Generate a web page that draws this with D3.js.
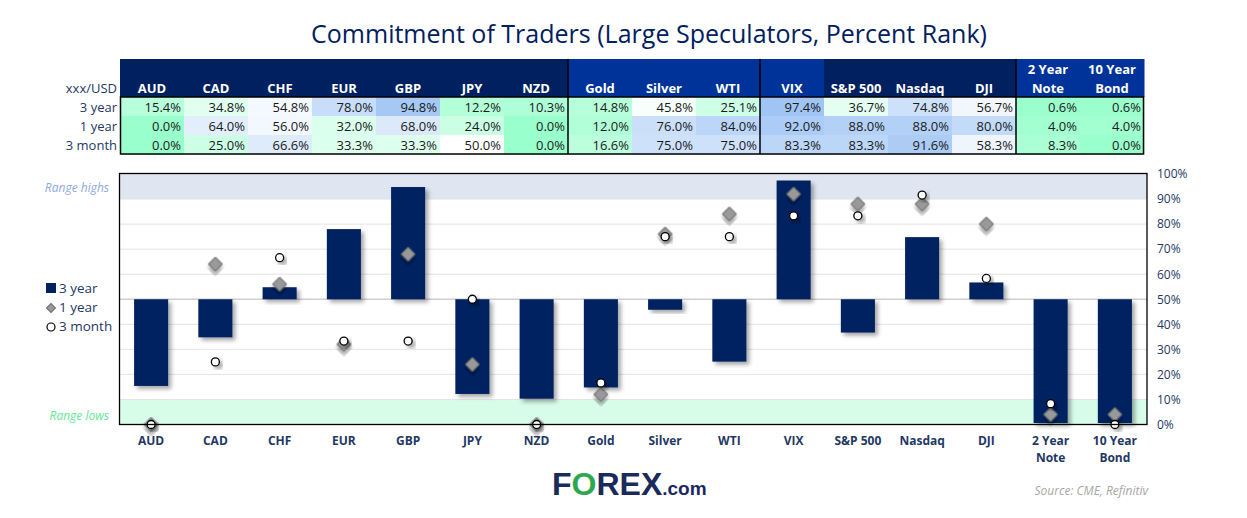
<!DOCTYPE html>
<html><head><meta charset="utf-8">
<script src="https://cdn.jsdelivr.net/npm/d3@7"></script>
<style>body{margin:0;background:#fff}svg{display:block}</style>
</head><body><svg id="c" width="1247" height="518"></svg>
<script>
const categories = ["AUD","CAD","CHF","EUR","GBP","JPY","NZD","Gold","Silver","WTI","VIX","S&P 500","Nasdaq","DJI","2 Year Note","10 Year Bond"];
const headerLines = [["AUD"],["CAD"],["CHF"],["EUR"],["GBP"],["JPY"],["NZD"],["Gold"],["Silver"],["WTI"],["VIX"],["S&P 500"],["Nasdaq"],["DJI"],["2 Year","Note"],["10 Year","Bond"]];
const headerGroup = [0,0,0,0,0,0,0,1,1,1,1,0,0,0,1,1];
const threeYear = [15.4,34.8,54.8,78.0,94.8,12.2,10.3,14.8,45.8,25.1,97.4,36.7,74.8,56.7,0.6,0.6];
const oneYear = [0,64,56,32,68,24,0,12,76,84,92,88,88,80,4,4];
const threeMonth = [0,25,66.6,33.3,33.3,50,0,16.6,75,75,83.3,83.3,91.6,58.3,8.3,0];
const rowLabels = ["3 year","1 year","3 month"];
const yTicks = [0,10,20,30,40,50,60,70,80,90,100];
const groupBreaks = [7,10,14];

const svg = d3.select("#c");
const navy = "#002060", txt = "#1f3864";
const defs = svg.append("defs");
const f = defs.append("filter").attr("id","sh").attr("x","-30%").attr("y","-30%").attr("width","170%").attr("height","170%");
f.append("feDropShadow").attr("dx",3).attr("dy",3).attr("stdDeviation",2).attr("flood-color","#000").attr("flood-opacity",0.35);

// Title
svg.append("text").attr("x",649).attr("y",43).attr("text-anchor","middle")
  .attr("font-family","Open Sans, Noto Sans, sans-serif").attr("font-size",26).attr("fill",navy)
  .attr("textLength",676).attr("lengthAdjust","spacingAndGlyphs")
  .text("Commitment of Traders (Large Speculators, Percent Rank)");

// Table
const tx = d3.scaleBand().domain(categories).range([120,1144]);
const tTop = 59, hBot = 97, rowH = 19;
const rows = [threeYear, oneYear, threeMonth];
const cellColor = d3.scaleLinear().domain([0,50,100]).range(["#99ffcc","#ffffff","#9bc2f4"]);
const tg = svg.append("g").attr("font-family","Open Sans, Noto Sans, sans-serif");
tg.selectAll("rect.h").data(categories).join("rect").attr("class","h")
  .attr("x",d=>tx(d)).attr("y",tTop).attr("width",tx.bandwidth()+0.5).attr("height",hBot-tTop)
  .attr("fill",(d,i)=>headerGroup[i]?"#003399":navy);
categories.forEach((c,i)=>{
  const lines = headerLines[i];
  lines.forEach((l,j)=>{
    tg.append("text").attr("x",tx(c)+tx.bandwidth()/2).attr("y",93-(lines.length-1-j)*19)
      .attr("text-anchor","middle").attr("font-weight","bold").attr("font-size",13).attr("fill","#fff").text(l);
  });
});
rows.forEach((vals,r)=>{
  const y0 = hBot + r*rowH;
  tg.selectAll(null).data(categories).join("rect")
    .attr("x",d=>tx(d)).attr("y",y0).attr("width",tx.bandwidth()+0.5).attr("height",rowH+0.5)
    .attr("fill",(d,i)=>cellColor(vals[i]));
  tg.selectAll(null).data(categories).join("text")
    .attr("x",d=>tx(d)+tx.bandwidth()-3).attr("y",y0+15).attr("text-anchor","end")
    .attr("font-size",13).attr("fill","#1a1a1a").text((d,i)=>vals[i].toFixed(1)+"%");
  tg.append("text").attr("x",117).attr("y",y0+15).attr("text-anchor","end").attr("font-size",13).attr("fill",txt).text(rowLabels[r]);
});
tg.append("text").attr("x",117).attr("y",93).attr("text-anchor","end").attr("font-size",13).attr("fill",txt).text("xxx/USD");
tg.append("rect").attr("x",120.5).attr("y",hBot).attr("width",1023).attr("height",rowH*3).attr("fill","none").attr("stroke","#000").attr("stroke-width",1.5);
groupBreaks.forEach(b=>{
  tg.append("line").attr("x1",tx(categories[b])).attr("x2",tx(categories[b])).attr("y1",tTop).attr("y2",hBot+rowH*3).attr("stroke","#000").attr("stroke-width",1.5);
});

// Chart
const x = d3.scaleBand().domain(categories).range([119,1147]);
const y = d3.scaleLinear().domain([0,100]).range([424.5,174]);
const g = svg.append("g");
g.append("rect").attr("x",119).attr("y",y(100)).attr("width",1028).attr("height",y(90)-y(100)).attr("fill","#dfe6f1");
g.append("rect").attr("x",119).attr("y",y(10)).attr("width",1028).attr("height",y(0)-y(10)).attr("fill","#d7fce8");
g.selectAll("line.grid").data(yTicks.filter(t=>t>0&&t<100)).join("line").attr("class","grid")
  .attr("x1",119).attr("x2",1147).attr("y1",d=>y(d)).attr("y2",d=>y(d))
  .attr("stroke",d=>d===50?"#cfcfcf":"#e3e3e3").attr("stroke-width",d=>d===50?1.3:1);
const yAxis = d3.axisRight(y).tickValues(yTicks).tickFormat(d=>d+"%").tickSize(0).tickPadding(10);
const ya = svg.append("g").attr("transform","translate(1147,0)").call(yAxis);
ya.select(".domain").remove();
ya.selectAll("text").attr("font-family","Open Sans, Noto Sans, sans-serif").attr("font-size",12).attr("fill",txt);

const bw = x.bandwidth()*0.53;
g.selectAll("rect.bar").data(categories).join("rect").attr("class","bar")
  .attr("x",d=>x(d)+(x.bandwidth()-bw)/2).attr("width",bw)
  .attr("y",(d,i)=>y(Math.max(threeYear[i],50))).attr("height",(d,i)=>Math.abs(y(threeYear[i])-y(50)))
  .attr("fill",navy).attr("filter","url(#sh)");
g.selectAll("path.dia").data(categories).join("path").attr("class","dia")
  .attr("d",d3.symbol(d3.symbolSquare, 98))
  .attr("transform",(d,i)=>`translate(${x(d)+x.bandwidth()/2},${y(oneYear[i])}) rotate(45)`)
  .attr("fill","#999").attr("stroke","#6b6b6b").attr("stroke-width",1).attr("filter","url(#sh)");
g.selectAll("circle.m3").data(categories).join("circle").attr("class","m3")
  .attr("cx",d=>x(d)+x.bandwidth()/2).attr("cy",(d,i)=>y(threeMonth[i])).attr("r",4)
  .attr("fill","#fff").attr("stroke","#000").attr("stroke-width",1.3).attr("filter","url(#sh)");
g.append("rect").attr("x",119.5).attr("y",173.5).attr("width",1027.5).attr("height",251).attr("fill","none").attr("stroke","#000").attr("stroke-width",1.3);

// x labels
const xl = svg.append("g").attr("font-family","Open Sans, Noto Sans, sans-serif").attr("font-weight","bold").attr("font-size",12).attr("fill",txt);
categories.forEach((c,i)=>{
  headerLines[i].forEach((l,j)=>{
    xl.append("text").attr("x",x(c)+x.bandwidth()/2).attr("y",445+j*17).attr("text-anchor","middle").text(l);
  });
});

// range labels
svg.append("text").attr("x",109).attr("y",192).attr("text-anchor","end").attr("font-family","Open Sans, Noto Sans, sans-serif")
  .attr("font-style","italic").attr("font-size",12).attr("fill","#8eaadb").text("Range highs");
svg.append("text").attr("x",109).attr("y",420).attr("text-anchor","end").attr("font-family","Open Sans, Noto Sans, sans-serif")
  .attr("font-style","italic").attr("font-size",12).attr("fill","#66e39a").text("Range lows");

// legend
const lg = svg.append("g").attr("font-family","Open Sans, Noto Sans, sans-serif").attr("font-size",13.5).attr("fill",txt);
lg.append("rect").attr("x",46).attr("y",283).attr("width",10).attr("height",10).attr("fill",navy);
lg.append("text").attr("x",59).attr("y",293).text("3 year");
lg.append("path").attr("d",d3.symbol(d3.symbolSquare,40)).attr("transform","translate(51,308) rotate(45)").attr("fill","#999").attr("stroke","#6b6b6b");
lg.append("text").attr("x",59).attr("y",312).text("1 year");
lg.append("circle").attr("cx",51).attr("cy",327).attr("r",4).attr("fill","#fff").attr("stroke","#000").attr("stroke-width",1.2);
lg.append("text").attr("x",59).attr("y",331).text("3 month");

// logo
const logo = svg.append("text").attr("x",552).attr("y",495).attr("font-family","Liberation Sans, Arial, sans-serif").attr("font-weight","bold").attr("font-size",32);
logo.append("tspan").attr("fill","#1b2a5c").text("F");
logo.append("tspan").attr("fill","#2ea84f").text("O");
logo.append("tspan").attr("fill","#1b2a5c").text("REX");
logo.append("tspan").attr("fill","#1b2a5c").attr("font-size",19).text(".com");

svg.append("text").attr("x",1148).attr("y",495).attr("text-anchor","end").attr("font-family","Open Sans, Noto Sans, sans-serif")
  .attr("font-style","italic").attr("font-size",12).attr("fill","#a6a6a6").text("Source: CME, Refinitiv");
</script></body></html>
